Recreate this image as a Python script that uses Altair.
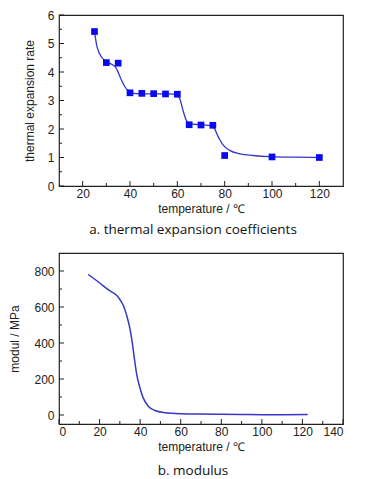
import altair as alt
import pandas as pd

# ---- panel a: measured points ----
temp_pts = [25, 30, 35, 40, 45, 50, 55, 60, 65, 70, 75, 80, 100, 120]
rate_pts = [5.42, 4.33, 4.31, 3.27, 3.25, 3.24, 3.23, 3.22, 2.15, 2.14, 2.13, 1.07, 1.02, 1.00]

# ---- panel a: fitted curve ----
fit_t = [25, 26.1, 28.2, 31.1, 33.9, 36.0, 37.7, 39.6, 42.4, 50, 57, 59.4, 60.9, 62.3,
         63.7, 65.1, 70, 73, 75.0, 77.2, 79.3, 82.1, 86.4, 92.0, 99.1, 110, 120]
fit_v = [5.42, 4.87, 4.50, 4.32, 4.17, 3.79, 3.50, 3.32, 3.24, 3.23, 3.23, 3.20, 3.09, 2.68,
         2.32, 2.18, 2.15, 2.13, 2.09, 1.74, 1.44, 1.25, 1.13, 1.07, 1.03, 1.01, 1.00]

# ---- panel b: modulus curve ----
mod_t = [14.4, 19.4, 24.3, 29.2, 31.7, 33.4, 35.0, 36.1, 37.1, 38.3, 39.9, 41.5, 44.0,
         47.3, 52.2, 60, 70, 80, 90, 100, 110, 122.6]
mod_v = [781, 739, 696, 655, 608, 552, 478, 403, 319, 226, 151, 95, 49,
         25, 13, 7, 5, 4, 3, 2, 2, 3]

# ---- tick values ----
a_x_major = [20, 40, 60, 80, 100, 120]
a_x_minor = [30, 50, 70, 90, 110]
a_y_major = [0, 1, 2, 3, 4, 5, 6]
a_y_minor = [0.5, 1.5, 2.5, 3.5, 4.5, 5.5]
b_x_major = [0, 20, 40, 60, 80, 100, 120, 140]
b_x_minor = [10, 30, 50, 70, 90, 110, 130]
b_y_major = [0, 200, 400, 600, 800]
b_y_minor = [100, 300, 500, 700]

W, H = 284, 171
FONT = "Liberation Sans"
CAP_FONT = "Open Sans"
LINE = "#3636c8"
PT = "#0a0af0"
INK = "#222222"
MAJ, MIN = 5, 3

df_pts = pd.DataFrame({"t": temp_pts, "v": rate_pts})
df_fit = pd.DataFrame({"t": fit_t, "v": fit_v})
df_mod = pd.DataFrame({"t": mod_t, "v": mod_v})


def label_axis(orient, values, title, lpad, tpad):
    return alt.Axis(orient=orient, values=values, ticks=False, domain=False, grid=False,
                    title=title, labelFont=FONT, labelFontSize=12, labelColor=INK,
                    titleFont=FONT, titleFontSize=12, titleFontWeight="normal",
                    titleColor=INK, labelPadding=lpad, titlePadding=tpad)


def inward_ticks(xs, ys, xvals_major, xvals_minor, yvals_major, yvals_minor):
    layers = []
    for vals, ln in ((xvals_major, MAJ), (xvals_minor, MIN)):
        layers.append(
            alt.Chart(pd.DataFrame({"t": vals})).mark_rule(color=INK, strokeWidth=1).encode(
                x=alt.X("t:Q", scale=xs, axis=None),
                y=alt.value(H), y2=alt.value(H - ln),
            )
        )
    for vals, ln in ((yvals_major, MAJ), (yvals_minor, MIN)):
        layers.append(
            alt.Chart(pd.DataFrame({"v": vals})).mark_rule(color=INK, strokeWidth=1).encode(
                y=alt.Y("v:Q", scale=ys, axis=None),
                x=alt.value(0), x2=alt.value(ln),
            )
        )
    return layers


# ---- panel a ----
xa = alt.Scale(domain=[10, 130], nice=False, zero=False)
ya = alt.Scale(domain=[0, 6], nice=False)

a_line = alt.Chart(df_fit).mark_line(color=LINE, strokeWidth=1.3, interpolate="monotone").encode(
    x=alt.X("t:Q", scale=xa, axis=label_axis("bottom", a_x_major, "temperature / ℃", 2, 4)),
    y=alt.Y("v:Q", scale=ya, axis=label_axis("left", a_y_major, "thermal expansion rate", 5, 11)),
)
a_pts = alt.Chart(df_pts).mark_square(size=45, color=PT, opacity=1).encode(
    x=alt.X("t:Q", scale=xa, axis=None),
    y=alt.Y("v:Q", scale=ya, axis=None),
)
panel_a = alt.layer(
    a_line, a_pts, *inward_ticks(xa, ya, a_x_major, a_x_minor, a_y_major, a_y_minor)
).resolve_axis(x="independent", y="independent").properties(
    width=W, height=H,
    title=alt.TitleParams("a.  thermal expansion coefficients", orient="bottom", font=CAP_FONT,
                          fontSize=13.5, fontWeight="normal", color="#111", offset=9, dx=-8,
                          anchor="middle"),
)

# ---- panel b ----
xb = alt.Scale(domain=[0, 140], nice=False, zero=False)
yb = alt.Scale(domain=[-50, 900], nice=False, zero=False)

b_line = alt.Chart(df_mod).mark_line(color=LINE, strokeWidth=1.5, interpolate="monotone").encode(
    x=alt.X("t:Q", scale=xb, axis=label_axis("bottom", b_x_major, "temperature / ℃", 2, 4)),
    y=alt.Y("v:Q", scale=yb, axis=label_axis("left", b_y_major, "modul / MPa", 5, 12)),
)
panel_b = alt.layer(
    b_line, *inward_ticks(xb, yb, b_x_major, b_x_minor, b_y_major, b_y_minor)
).resolve_axis(x="independent", y="independent").properties(
    width=W, height=H,
    title=alt.TitleParams("b.  modulus", orient="bottom", font=CAP_FONT,
                          fontSize=13.5, fontWeight="normal", color="#111", offset=12, dx=-8,
                          anchor="middle"),
)

chart = alt.vconcat(panel_a, panel_b, spacing=14).properties(
    padding={"left": 0, "top": 0, "right": 0, "bottom": 0}
).configure_view(stroke=INK, strokeWidth=1.2)

chart.save("out.html", embed_options={"renderer": "svg", "actions": False})
